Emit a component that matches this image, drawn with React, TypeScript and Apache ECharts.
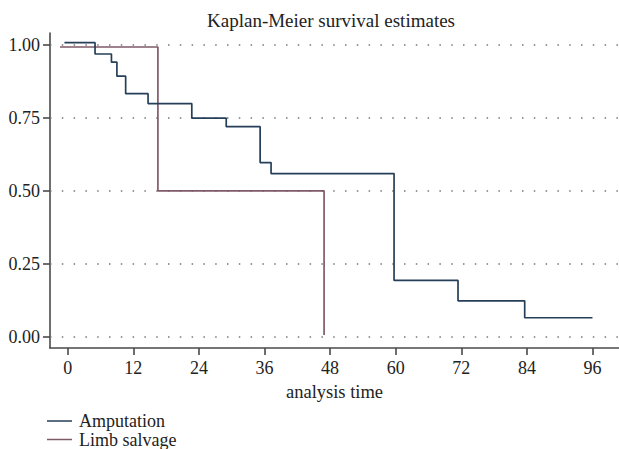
import React, { useEffect, useRef } from "react";
import * as echarts from "echarts";

const ampTime = [-0.6, 5, 8, 9, 10.6, 14.7, 22.7, 29, 35.2, 37.2, 59.7, 71.4, 83.6, 96];
const ampSurv = [1.008, 0.969, 0.941, 0.893, 0.833, 0.799, 0.749, 0.72, 0.597, 0.559, 0.193, 0.123, 0.065, 0.065];
const limbTime = [-1.4, 16.5, 46.9];
const limbSurv = [0.993, 0.5, 0.006];
const xTicks = [0, 12, 24, 36, 48, 60, 72, 84, 96];
const yTicks = [0, 0.25, 0.5, 0.75, 1];
const seriesNames = ["Amputation", "Limb salvage"];
const colors = ["#263f59", "#7f5a69"];

const FONT = "Liberation Serif";

export default function App() {
  const ref = useRef<HTMLDivElement>(null);
  useEffect(() => {
    if (!ref.current) return;
    const chart = echarts.init(ref.current, null, { renderer: "svg" });
    const axisColor = "#4a4a4a";
    chart.setOption({
      animation: false,
      backgroundColor: "#ffffff",
      title: {
        text: "Kaplan-Meier survival estimates",
        left: 326,
        top: 6,
        textAlign: "center",
        textStyle: { fontFamily: FONT, fontSize: 19, fontWeight: "normal", color: "#222" },
      },
      grid: { left: 50, right: 0, top: 33, bottom: 101 },
      xAxis: {
        type: "value",
        min: -3.24,
        max: 100.85,
        name: "analysis time",
        nameLocation: "middle",
        nameGap: 34,
        nameTextStyle: { fontFamily: FONT, fontSize: 18.5, color: "#222" },
        axisLine: { show: true, onZero: false, lineStyle: { color: axisColor, width: 1.6 } },
        axisTick: { show: true, customValues: xTicks, length: 7, lineStyle: { color: axisColor, width: 1.6 } },
        axisLabel: {
          customValues: xTicks,
          margin: 11,
          fontFamily: FONT,
          fontSize: 18,
          color: "#222",
        },
        splitLine: { show: false },
      },
      yAxis: {
        type: "value",
        min: -0.0387,
        max: 1.041,
        axisLine: { show: true, onZero: false, lineStyle: { color: axisColor, width: 1.6 } },
        axisTick: { show: true, customValues: yTicks, length: 7, lineStyle: { color: axisColor, width: 1.6 } },
        axisLabel: {
          customValues: yTicks,
          margin: 10,
          fontFamily: FONT,
          fontSize: 18,
          color: "#222",
          formatter: (v: number) => v.toFixed(2),
        },
        splitLine: { show: false },
      },
      series: [
        {
          name: seriesNames[0],
          type: "line",
          step: "end",
          showSymbol: false,
          symbol: "none",
          data: ampTime.map((t, i) => [t, ampSurv[i]]),
          lineStyle: { color: colors[0], width: 1.7 },
          itemStyle: { color: colors[0] },
          z: 3,
          markLine: {
            silent: true,
            symbol: "none",
            label: { show: false },
            lineStyle: { color: "#777", width: 1.5, type: [1.5, 10.3] },
            data: yTicks.map((v) => ({ yAxis: v })),
            z: 1,
          },
        },
        {
          name: seriesNames[1],
          type: "line",
          step: "end",
          showSymbol: false,
          symbol: "none",
          data: limbTime.map((t, i) => [t, limbSurv[i]]),
          lineStyle: { color: colors[1], width: 1.7 },
          itemStyle: { color: colors[1] },
          z: 2,
        },
      ],
      graphic: seriesNames.flatMap((name, i) => {
        const y = 421 + i * 18.5;
        return [
          { type: "line", shape: { x1: 47, y1: y, x2: 72, y2: y }, style: { stroke: colors[i], lineWidth: 1.5 } },
          {
            type: "text",
            x: 79,
            y: y,
            style: { text: name, fontFamily: FONT, fontSize: 18, fill: "#222", textVerticalAlign: "middle", textAlign: "left" },
          },
        ];
      }),
    });
    return () => chart.dispose();
  }, []);
  return <div ref={ref} style={{ position: "fixed", left: 0, top: 0, width: 619, height: 449 }} />;
}
